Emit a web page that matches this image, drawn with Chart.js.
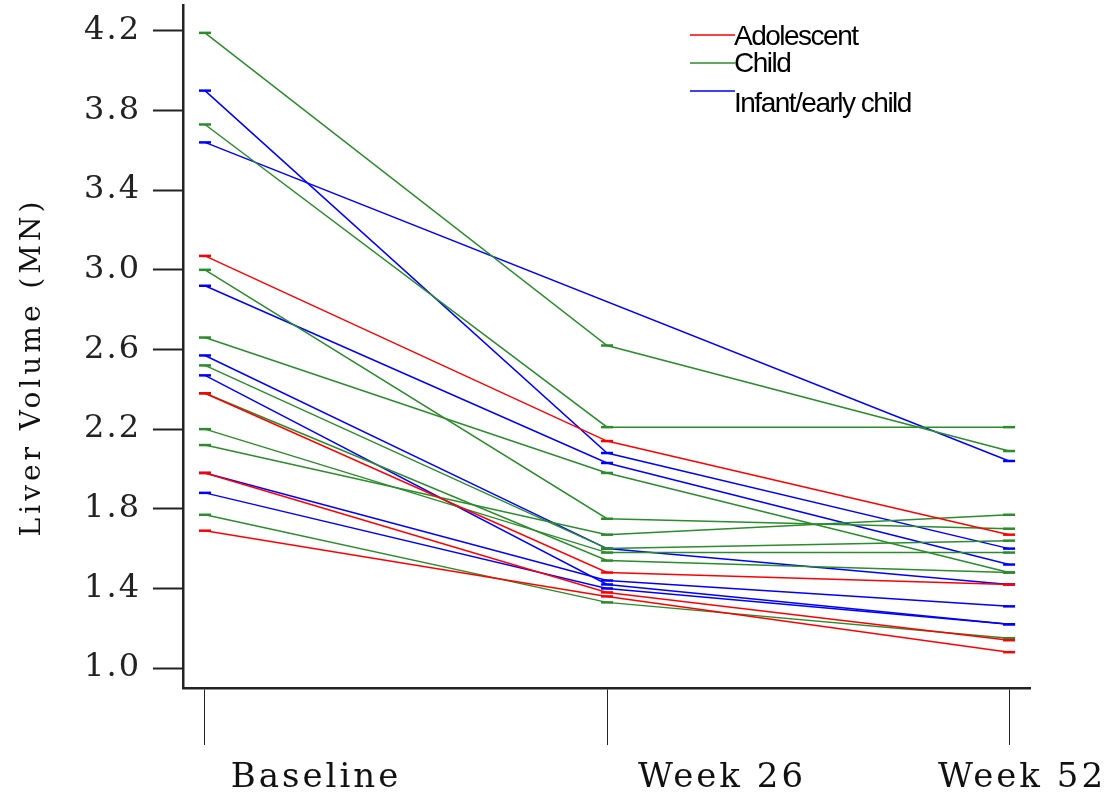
<!DOCTYPE html>
<html>
<head>
<meta charset="utf-8">
<script src="https://cdn.jsdelivr.net/npm/chart.js@4.4.1/dist/chart.umd.min.js"></script>
<style>
html, body { margin: 0; padding: 0; background: #fff; }
#wrap { width: 1118px; height: 798px; }
</style>
</head>
<body>
<div id="wrap"><canvas id="chart" width="1118" height="798"></canvas></div>
<script>
const visits = ['Baseline', 'Week 26', 'Week 52']
const yTicks = [1.0, 1.4, 1.8, 2.2, 2.6, 3.0, 3.4, 3.8, 4.2]
const groups = ['Adolescent', 'Child', 'Infant/early child']
const groupColors = ['#ff0000', '#2a8c2a', '#0000ff']

// one row per subject: baseline, week 26, week 52
const adolescent = [
    [3.07, 2.14, 1.67],
    [2.38, 1.48, 1.42],
    [1.98, 1.38, 1.14],
    [1.69, 1.36, 1.08]
]
const child = [
    [4.19, 2.62, 2.09],
    [3.73, 2.21, 2.21],
    [3.00, 1.75, 1.70],
    [2.66, 1.98, 1.48],
    [2.52, 1.60, 1.64],
    [2.38, 1.54, 1.48],
    [2.20, 1.58, 1.58],
    [2.12, 1.67, 1.77],
    [1.77, 1.33, 1.15]
]
const infant = [
    [3.90, 2.08, 1.60],
    [3.64, null, 2.04],
    [2.92, 2.03, 1.52],
    [2.57, 1.60, 1.42],
    [2.47, 1.42, 1.22],
    [1.98, 1.44, 1.31],
    [1.88, 1.40, 1.22]
]

const datasets = []
;[adolescent, child, infant].forEach(function(rows, g) {
    rows.forEach(function(row) {
        datasets.push({
            label: groups[g],
            data: row.map(function(v, i) { return {x: i, y: v} }),
            borderColor: groupColors[g],
            backgroundColor: groupColors[g],
            borderWidth: 1.5,
            pointStyle: 'line',
            pointRadius: 6,
            pointBorderWidth: 2.5,
            pointBorderColor: groupColors[g],
            spanGaps: true,
            tension: 0
        })
    })
})

const extras = {
    id: 'extras',
    beforeDraw(chart) {
        chart.ctx.letterSpacing = '2px'
    },
    afterDraw(chart) {
        const c = chart.ctx
        c.save()
        c.fillStyle = '#111'

        // x labels (sit to the right of their ticks in the original)
        const labelX = [316, 722, 1022]
        c.font = '34px "DejaVu Serif"'
        c.letterSpacing = '3px'
        c.textAlign = 'center'
        c.textBaseline = 'middle'
        visits.forEach(function(v, i) { c.fillText(v, labelX[i], 778) })

        // y title
        c.save()
        c.translate(33, 367)
        c.rotate(-Math.PI / 2)
        c.font = '28px "DejaVu Serif"'
        c.letterSpacing = '4px'
        c.fillText('Liver Volume (MN)', 0, 0)
        c.restore()

        // legend
        const legY = [35, 63, 91]
        const textY = [37, 64, 104]
        c.font = '28px "Liberation Sans"'
        c.letterSpacing = '-1.5px'
        c.textAlign = 'left'
        groups.forEach(function(name, i) {
            c.strokeStyle = groupColors[i]
            c.lineWidth = 1.5
            c.beginPath()
            c.moveTo(690, legY[i])
            c.lineTo(735, legY[i])
            c.stroke()
            c.fillStyle = '#000'
            c.fillText(name, 734, textY[i])
        })
        c.restore()
        c.letterSpacing = '0px'
    }
}

new Chart(document.getElementById('chart'), {
    type: 'line',
    data: { datasets: datasets },
    options: {
        responsive: false,
        animation: false,
        layout: { autoPadding: false, padding: { top: 5, right: 88, left: 0, bottom: 0 } },
        plugins: {
            legend: { display: false },
            tooltip: { enabled: false }
        },
        scales: {
            x: {
                type: 'linear',
                min: -0.0547,
                max: 2.052,
                afterBuildTicks(scale) {
                    scale.ticks = visits.map(function(v, i) { return {value: i} })
                },
                afterFit(scale) {
                    scale.height = 110
                    scale.paddingLeft = 0
                    scale.paddingRight = 0
                },
                ticks: { callback: function() { return '' } },
                grid: {
                    drawOnChartArea: false,
                    drawTicks: true,
                    tickLength: 57,
                    tickColor: '#222',
                    tickWidth: 1
                },
                border: { color: '#222', width: 2.5 }
            },
            y: {
                type: 'linear',
                min: 0.9,
                max: 4.33,
                afterBuildTicks(scale) {
                    scale.ticks = yTicks.map(function(v) { return {value: v} })
                },
                afterFit(scale) {
                    scale.width = 183
                    scale.paddingTop = 0
                    scale.paddingBottom = 0
                },
                ticks: {
                    padding: 12,
                    color: '#222',
                    font: { family: '"DejaVu Serif"', size: 32 },
                    callback: function(v) { return v.toFixed(1) }
                },
                grid: {
                    drawOnChartArea: false,
                    drawTicks: true,
                    tickLength: 30,
                    tickColor: '#222',
                    tickWidth: 2
                },
                border: { color: '#222', width: 2.5 }
            }
        }
    },
    plugins: [extras]
})
</script>
</body>
</html>
